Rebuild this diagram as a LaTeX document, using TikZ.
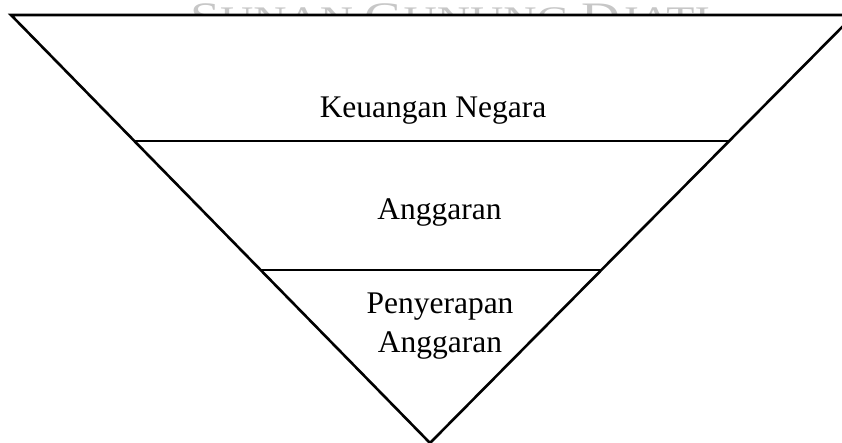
\documentclass[tikz,border=0pt]{standalone}
\usepackage{fontspec}
\setmainfont{Liberation Serif}
\usetikzlibrary{calc}
\begin{document}
\begin{tikzpicture}[x=1pt,y=-1pt,
  lbl/.style={inner sep=0pt,anchor=base,font=\fontsize{31.5}{39}\selectfont},
  side/.style={line width=2.6pt,line join=miter},
  band/.style={line width=1.3pt}]
\useasboundingbox (0,0) rectangle (842,442);
\clip (0,0) rectangle (842,442);
% watermark
\node[inner sep=0pt,anchor=base west,text=black!22] (wm) at (190,31)
  {\scalebox{1.28}[1]{\fontsize{42}{42}\selectfont S\fontsize{36}{36}\selectfont UNAN\ \fontsize{42}{42}\selectfont G\fontsize{36}{36}\selectfont UNUNG\ \fontsize{42}{42}\selectfont D\fontsize{36}{36}\selectfont JATI}};
% triangle
\coordinate (tl) at (11,15);
\coordinate (tr) at (854,15);
\coordinate (ap) at (430,443);
\fill[white] (tl) -- (tr) -- (ap) -- cycle;
\draw[band] ($(tl)!0.2944!(ap)$) coordinate (l1) -- ($(tr)!0.2944!(ap)$) coordinate (r1);
\draw[band] ($(tl)!0.5958!(ap)$) coordinate (l2) -- ($(tr)!0.5958!(ap)$) coordinate (r2);
\draw[side] (tl) -- (tr) -- (ap) -- cycle;
% labels
\node[lbl] (kn) at (433,117) {Keuangan Negara};
\node[lbl] (ag) at (439.5,219) {Anggaran};
\node[lbl,align=center] (pa) at (440,352) {Penyerapan\\Anggaran};
\end{tikzpicture}
\end{document}
